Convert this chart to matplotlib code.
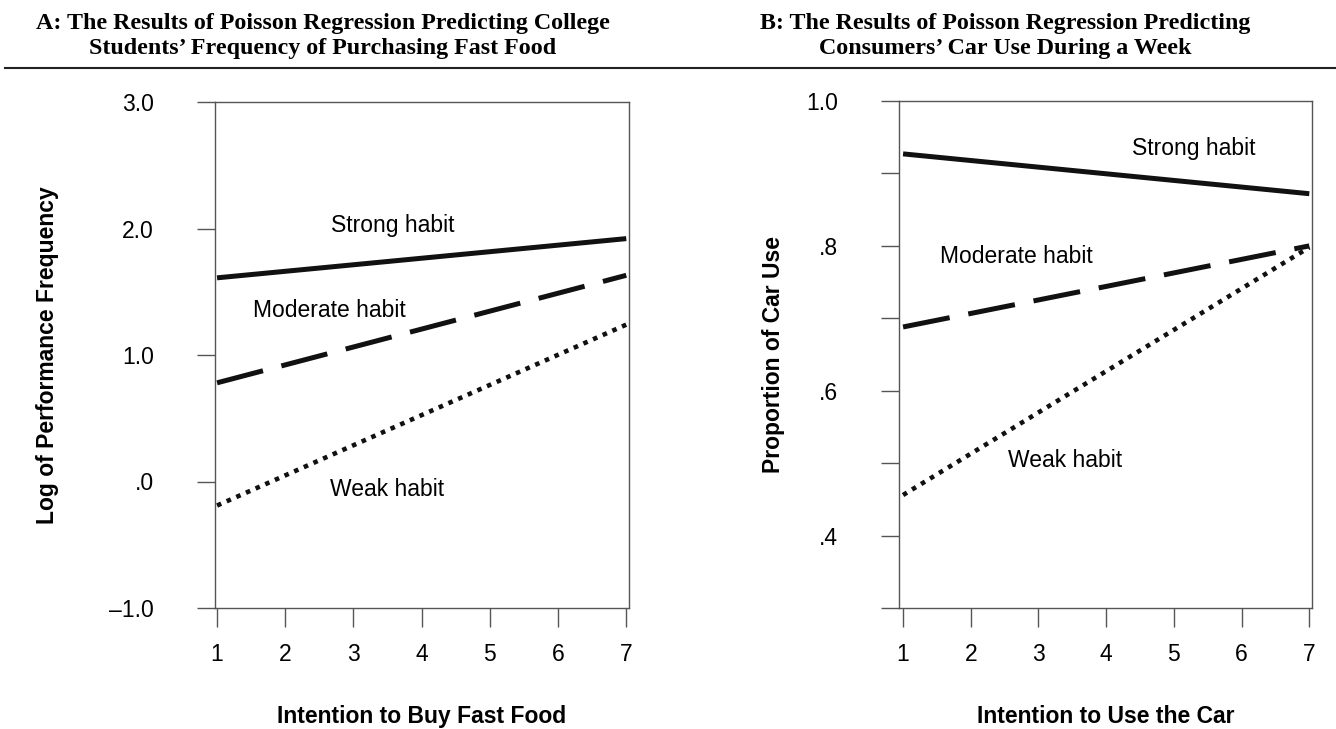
import matplotlib.pyplot as plt
from matplotlib.lines import Line2D

# intention scale (x), shared by both panels
intention = [1, 7]

# panel A: log of performance frequency
fast_strong = [1.61, 1.92]
fast_moderate = [0.78, 1.63]
fast_weak = [-0.19, 1.24]
fast_yticks = [3.0, 2.0, 1.0, 0.0, -1.0]
fast_ylabels = ["3.0", "2.0", "1.0", ".0", "\u20131.0"]

# panel B: proportion of car use
car_strong = [0.927, 0.872]
car_moderate = [0.688, 0.800]
car_weak = [0.456, 0.798]
car_yticks = [1.0, 0.9, 0.8, 0.7, 0.6, 0.5, 0.4, 0.3]
car_ylabels = ["1.0", "", ".8", "", ".6", "", ".4", ""]

xticks = [1, 2, 3, 4, 5, 6, 7]

SANS = "Liberation Sans"
SERIF = "Liberation Serif"
GREY = "#555555"


def style_axes(ax, xlim, ylim, yticks, ylabels, xlabel, ylabel, ylabelpad):
    ax.set_xlim(*xlim)
    ax.set_ylim(*ylim)
    ax.set_xticks(xticks)
    ax.set_xticklabels([str(t) for t in xticks], fontfamily=SANS, fontsize=16.5)
    ax.set_yticks(yticks)
    ax.set_yticklabels(ylabels, fontfamily=SANS, fontsize=16.5)
    for sp in ax.spines.values():
        sp.set_color(GREY)
        sp.set_linewidth(1.0)
    ax.tick_params(axis="x", direction="out", length=14, width=1.0, color=GREY, pad=11)
    ax.tick_params(axis="y", direction="out", length=13, width=1.0, color=GREY, pad=31)
    ax.set_xlabel(xlabel, fontfamily=SANS, fontsize=16.5, fontweight="bold", labelpad=28)
    ax.set_ylabel(ylabel, fontfamily=SANS, fontsize=16.5, fontweight="bold", labelpad=ylabelpad)


def draw_lines(ax, strong, moderate, weak):
    ax.plot(intention, strong, color="#111111", lw=3.6, solid_capstyle="butt")
    ax.plot(intention, moderate, color="#111111", lw=3.6, dashes=(9.5, 3.8), dash_capstyle="butt")
    ax.plot(intention, weak, color="#111111", lw=3.3, dashes=(1.0, 1.3), dash_capstyle="butt")


def main():
    fig = plt.figure(figsize=(13.36, 7.29), dpi=100)

    ax_a = fig.add_axes([215 / 1336, 1 - 608 / 729, 414 / 1336, 506 / 729])
    ax_b = fig.add_axes([899 / 1336, 1 - 608 / 729, 413 / 1336, 507 / 729])

    draw_lines(ax_a, fast_strong, fast_moderate, fast_weak)
    style_axes(ax_a, (0.97, 7.04), (-1.0, 3.0), fast_yticks, fast_ylabels,
               "Intention to Buy Fast Food", "Log of Performance Frequency", 36)
    ax_a.text(3.58, 2.02, "Strong habit", fontfamily=SANS, fontsize=16.5, ha="center", va="center")
    ax_a.text(2.64, 1.35, "Moderate habit", fontfamily=SANS, fontsize=16.5, ha="center", va="center")
    ax_a.text(3.49, -0.06, "Weak habit", fontfamily=SANS, fontsize=16.5, ha="center", va="center")

    draw_lines(ax_b, car_strong, car_moderate, car_weak)
    style_axes(ax_b, (0.94, 7.04), (0.3, 1.0), car_yticks, car_ylabels,
               "Intention to Use the Car", "Proportion of Car Use", 15)
    ax_b.text(5.29, 0.935, "Strong habit", fontfamily=SANS, fontsize=16.5, ha="center", va="center")
    ax_b.text(2.68, 0.785, "Moderate habit", fontfamily=SANS, fontsize=16.5, ha="center", va="center")
    ax_b.text(3.39, 0.504, "Weak habit", fontfamily=SANS, fontsize=16.5, ha="center", va="center")

    fig.text(323 / 1336, 1 - 36 / 729,
             "A: The Results of Poisson Regression Predicting College\n"
             "Students\u2019 Frequency of Purchasing Fast Food",
             fontfamily=SERIF, fontsize=17.3, fontweight="bold", ha="center", va="center",
             linespacing=1.2)
    fig.text(1005 / 1336, 1 - 36 / 729,
             "B: The Results of Poisson Regression Predicting\n"
             "Consumers\u2019 Car Use During a Week",
             fontfamily=SERIF, fontsize=17.3, fontweight="bold", ha="center", va="center",
             linespacing=1.2)
    fig.add_artist(Line2D([5 / 1336, 1.0], [1 - 68 / 729, 1 - 68 / 729],
                          transform=fig.transFigure, color="#222222", lw=1.5))

    fig.savefig("out.png", dpi=100)


if __name__ == "__main__":
    main()
